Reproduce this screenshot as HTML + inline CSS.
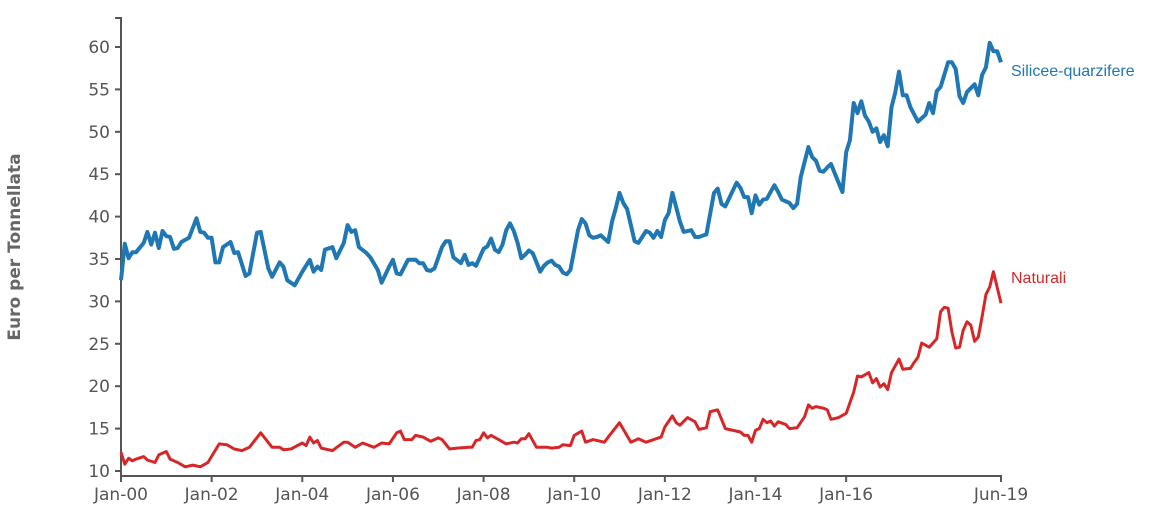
<!DOCTYPE html>
<html><head><meta charset="utf-8">
<style>
html,body{margin:0;padding:0;background:#fff;}
svg{display:block;font-family:"DejaVu Sans","Liberation Sans",sans-serif;}
.tick text{fill:#555;font-size:17px;}
</style></head>
<body>
<svg id="chart" width="1170" height="531">
<g id="axes"></g>
<g id="lines"></g>
<text x="20" y="247" transform="rotate(-90 20 247)" text-anchor="middle" font-size="17" font-weight="bold" fill="#666">Euro per Tonnellata</text>
<text x="1011" y="76" font-size="16" fill="#1f77b4" font-family="Liberation Sans, sans-serif">Silicee-quarzifere</text>
<text x="1011" y="283" font-size="16" fill="#d62728" font-family="Liberation Sans, sans-serif">Naturali</text>
</svg>
<script>
// months since Jan-2000
const blueMonths=[0,1,2,3,4,6,7,8,9,10,11,12,13,14,15,16,18,20,21,22,23,24,25,26,27,29,30,31,33,34,36,37,39,40,42,43,44,46,48,50,51,52,53,54,56,57,59,60,61,62,63,65,66,68,69,71,72,73,74,76,78,79,80,81,82,83,85,86,87,88,90,91,92,93,94,96,97,98,99,100,101,102,103,104,105,106,107,108,109,110,111,112,113,114,115,116,117,118,119,121,122,123,124,125,126,127,129,130,131,132,133,134,136,137,139,140,141,142,143,144,145,146,147,148,149,151,152,153,155,157,158,159,160,163,164,165,166,167,168,169,170,171,173,174,175,177,178,179,180,182,183,184,185,186,187,188,190,191,192,193,194,195,196,197,198,199,200,201,202,203,204,205,206,207,208,209,211,213,214,215,216,217,219,220,221,222,223,224,226,227,228,229,230,231,232,233];
const blueValues=[32.5,36.8,35.1,35.8,35.8,36.9,38.2,36.7,38.1,36.3,38.3,37.7,37.6,36.2,36.3,37.0,37.5,39.8,38.2,38.1,37.5,37.5,34.6,34.6,36.4,37.0,35.7,35.8,33.0,33.3,38.1,38.2,33.9,32.9,34.6,34.1,32.5,31.9,33.5,34.9,33.5,34.1,33.7,36.1,36.4,35.1,36.9,39.0,38.2,38.4,36.4,35.7,35.2,33.7,32.2,34.1,34.9,33.3,33.2,34.9,34.9,34.5,34.5,33.7,33.6,33.9,36.4,37.1,37.1,35.2,34.5,35.5,34.3,34.5,34.2,36.2,36.5,37.4,36.1,35.8,36.7,38.4,39.2,38.3,36.9,35.1,35.5,36.0,35.7,34.6,33.5,34.2,34.6,34.8,34.3,34.1,33.4,33.2,33.7,38.4,39.7,39.2,37.8,37.5,37.6,37.8,37.0,39.4,41.0,42.8,41.6,40.9,37.1,36.9,38.3,38.1,37.5,38.3,37.6,39.6,40.4,42.8,41.1,39.4,38.2,38.4,37.6,37.6,37.9,42.8,43.3,41.5,41.2,44.0,43.4,42.3,42.3,40.4,42.5,41.4,42.0,42.1,43.7,42.9,42.0,41.6,41.0,41.5,44.7,48.2,47.0,46.6,45.4,45.3,45.8,46.2,44.0,42.9,47.6,49.0,53.4,52.2,53.6,51.9,51.2,50.0,50.4,48.8,49.6,48.3,52.9,54.6,57.1,54.3,54.3,52.9,51.2,52.0,53.4,52.2,54.8,55.3,58.2,58.2,57.4,54.2,53.4,54.7,55.6,54.3,56.7,57.6,60.5,59.5,59.5,58.2];
const redMonths=[0,1,2,3,4,6,7,9,10,12,13,15,17,19,21,23,26,28,30,32,34,37,40,42,43,45,48,49,50,51,52,53,56,59,60,62,64,67,69,71,73,74,75,77,78,80,82,84,85,87,89,92,93,94,95,96,97,98,100,102,104,105,106,107,108,110,113,114,116,117,119,120,122,123,125,128,129,132,135,137,139,143,144,146,147,148,150,152,153,155,156,158,160,164,165,166,167,168,169,170,171,172,173,174,176,177,179,181,182,183,184,186,187,188,190,192,194,195,196,198,199,200,201,202,203,204,206,207,209,210,211,212,214,216,217,218,219,220,221,222,223,224,225,226,227,228,229,230,231,233];
const redValues=[12.2,10.8,11.5,11.2,11.4,11.7,11.3,11.0,11.9,12.3,11.4,11.0,10.5,10.7,10.5,11.0,13.2,13.1,12.6,12.4,12.8,14.5,12.8,12.8,12.5,12.6,13.3,13.0,14.0,13.3,13.6,12.7,12.4,13.4,13.4,12.8,13.3,12.8,13.3,13.2,14.5,14.7,13.7,13.7,14.2,14.0,13.5,13.9,13.7,12.6,12.7,12.8,12.8,13.6,13.7,14.5,13.9,14.2,13.7,13.2,13.4,13.3,13.8,13.8,14.4,12.8,12.8,12.7,12.8,13.1,13.0,14.2,14.7,13.4,13.7,13.4,14.0,15.7,13.4,13.8,13.4,14.0,15.2,16.5,15.7,15.4,16.3,15.8,14.9,15.1,17.0,17.2,15.0,14.6,14.2,14.2,13.4,14.8,15.0,16.1,15.7,15.9,15.3,15.8,15.5,15.0,15.1,16.4,17.8,17.4,17.6,17.4,17.2,16.1,16.3,16.8,19.3,21.2,21.1,21.6,20.4,20.9,19.9,20.3,19.6,21.6,23.2,22.0,22.1,22.8,23.4,25.1,24.6,25.6,28.8,29.3,29.2,26.4,24.5,24.6,26.6,27.6,27.2,25.3,25.8,28.2,30.8,31.7,33.5,29.8];
const xTickMonths=[0,24,48,72,96,120,144,168,192,233];
const xTickLabels=["Jan-00","Jan-02","Jan-04","Jan-06","Jan-08","Jan-10","Jan-12","Jan-14","Jan-16","Jun-19"];
const yTicks=[10,15,20,25,30,35,40,45,50,55,60];

const NS="http://www.w3.org/2000/svg";
const X0=121,X1=1001,M0=0,M1=233;
function xs(m){return X0+(m-M0)/(M1-M0)*(X1-X0);}
function ys(v){return 47+(60-v)*8.48;}
function mk(tag,attrs,parent){const e=document.createElementNS(NS,tag);for(const k in attrs)e.setAttribute(k,attrs[k]);parent.appendChild(e);return e;}
const axes=document.getElementById('axes');
const yAxis=mk('path',{d:'M115,18H121V476',fill:'none',stroke:'#555','stroke-width':2},axes);


const xAxis=mk('path',{d:'M121,482V476H1001V482',fill:'none',stroke:'#555','stroke-width':2},axes);


yTicks.forEach(v=>{
  const g=mk('g',{class:'tick'},axes);
  
  
  const y=ys(v);
  mk('line',{x1:115,x2:121,y1:y,y2:y,stroke:'#555','stroke-width':2},g);
  const t=mk('text',{x:110,y:y+6,'text-anchor':'end'},g);t.textContent=v;
});
xTickMonths.forEach((m,i)=>{
  const g=mk('g',{class:'tick'},axes);
  
  
  const x=xs(m);
  mk('line',{x1:x,x2:x,y1:476,y2:482,stroke:'#555','stroke-width':2},g);
  const t=mk('text',{x:x,y:500,'text-anchor':'middle'},g);t.textContent=xTickLabels[i];
});
const lines=document.getElementById('lines');
function drawLine(ms,vs,color,w,name){
  const d=ms.map((m,i)=>(i?'L':'M')+xs(m).toFixed(1)+','+ys(vs[i]).toFixed(1)).join('');
  const p=mk('path',{d:d,fill:'none',stroke:color,'stroke-width':w,'stroke-linejoin':'round'},lines);
  
  
}
drawLine(redMonths,redValues,'#d62728',3,'line-naturali');
drawLine(blueMonths,blueValues,'#1f77b4',4,'line-silicee-quarzifere');
</script>
</body></html>
